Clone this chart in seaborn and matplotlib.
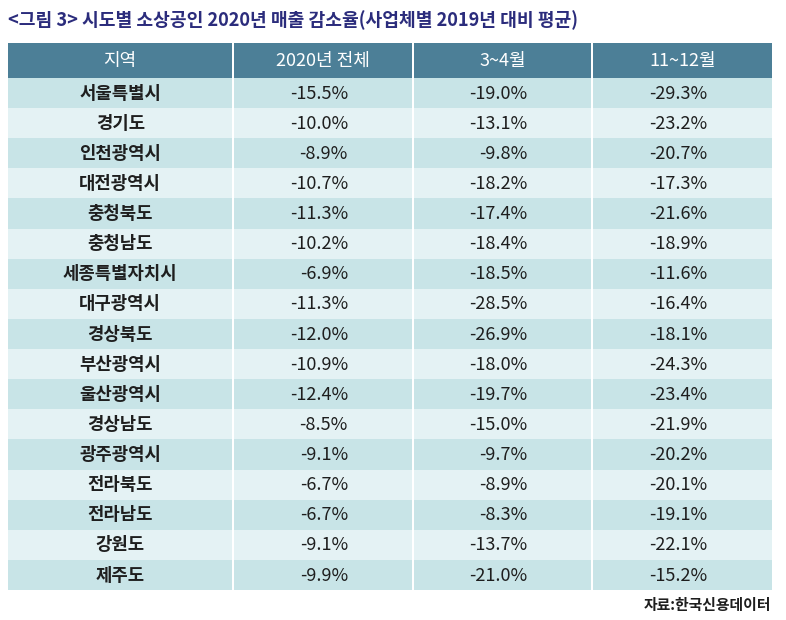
import numpy as np
import matplotlib
matplotlib.use("Agg")
import matplotlib.pyplot as plt
from matplotlib.colors import ListedColormap
import seaborn as sns

# table contents
title = "<그림 3> 시도별 소상공인 2020년 매출 감소율(사업체별 2019년 대비 평균)"
source = "자료:한국신용데이터"
headers = ["지역", "2020년 전체", "3~4월", "11~12월"]
regions = ["서울특별시", "경기도", "인천광역시", "대전광역시", "충청북도", "충청남도",
           "세종특별자치시", "대구광역시", "경상북도", "부산광역시", "울산광역시",
           "경상남도", "광주광역시", "전라북도", "전라남도", "강원도", "제주도"]
total_2020 = [-15.5, -10.0, -8.9, -10.7, -11.3, -10.2, -6.9, -11.3, -12.0,
              -10.9, -12.4, -8.5, -9.1, -6.7, -6.7, -9.1, -9.9]
mar_apr = [-19.0, -13.1, -9.8, -18.2, -17.4, -18.4, -18.5, -28.5, -26.9,
           -18.0, -19.7, -15.0, -9.7, -8.9, -8.3, -13.7, -21.0]
nov_dec = [-29.3, -23.2, -20.7, -17.3, -21.6, -18.9, -11.6, -16.4, -18.1,
           -24.3, -23.4, -21.9, -20.2, -20.1, -19.1, -22.1, -15.2]

header_color = "#4C7F97"
row_colors = ["#C8E4E7", "#E4F2F4"]
text_color = "#1E1E1E"
title_color = "#2B2C7C"

sns.set_theme(style="white")
plt.rcParams["font.family"] = ["Noto Sans CJK KR", "DejaVu Sans"]

fig = plt.figure(figsize=(7.86, 6.2), dpi=100)
gs = fig.add_gridspec(2, 4, left=8 / 786, right=772 / 786,
                      top=1 - 43 / 620, bottom=1 - 590 / 620,
                      width_ratios=[226, 179, 179, 180],
                      height_ratios=[35, 512], wspace=0.009, hspace=0)

columns = [regions, total_2020, mar_apr, nov_dec]
parity = np.array([[i % 2] for i in range(len(regions))])

for c, col in enumerate(columns):
    # header cell
    axh = fig.add_subplot(gs[0, c])
    sns.heatmap([[0]], cmap=ListedColormap([header_color]), cbar=False,
                xticklabels=False, yticklabels=False, ax=axh)
    axh.text(0.5, 0.52, headers[c], ha="center", va="center",
             color="white", fontsize=13, fontweight="medium")
    axh.set_axis_off()

    # body cells, alternating shades
    ax = fig.add_subplot(gs[1, c])
    sns.heatmap(parity, cmap=ListedColormap(row_colors), vmin=0, vmax=1,
                cbar=False, xticklabels=False, yticklabels=False, ax=ax)
    for i, v in enumerate(col):
        if c == 0:
            ax.text(0.5, i + 0.52, v, ha="center", va="center",
                    color=text_color, fontsize=12.8, fontweight="bold")
        else:
            ax.text(0.64, i + 0.52, f"{v:.1f}%", ha="right", va="center",
                    color=text_color, fontsize=13)
    ax.set_axis_off()

fig.text(8 / 786, 1 - 20 / 620, title, ha="left", va="center",
         color=title_color, fontsize=13.1, fontweight="bold")
fig.text(771 / 786, 1 - 605 / 620, source, ha="right", va="center",
         color=text_color, fontsize=10.7, fontweight="bold")

fig.savefig("out.png", dpi=100, facecolor="white")
